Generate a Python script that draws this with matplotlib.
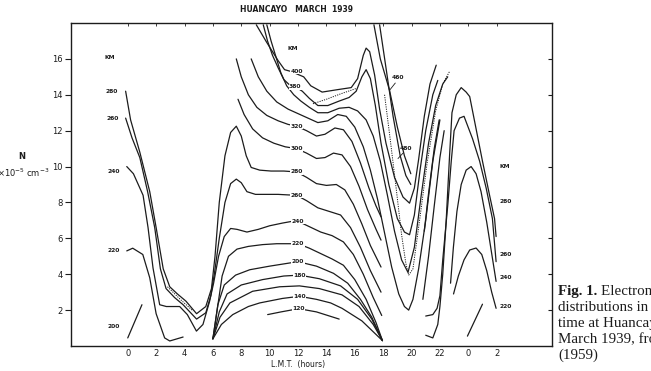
import matplotlib
matplotlib.use("Agg")
import matplotlib.pyplot as plt

# hours of local mean time (24 and 26 are 0 and 2 of the next day), N in 1e5 cm^-3
x_ticks = [0, 2, 4, 6, 8, 10, 12, 14, 16, 18, 20, 22, 24, 26]
x_labels = ["0", "2", "4", "6", "8", "10", "12", "14", "16", "18", "20", "22", "0", "2"]
y_ticks = [2, 4, 6, 8, 10, 12, 14, 16]

# curves of constant height as (hour, N)
c400 = [(9.06,17.9),(9.77,16.95),(10.6,15.9),(11.05,15.4),(11.5,15.3),(12.4,15.0),(12.9,14.5),(13.7,14.15),
        (14.9,14.3),(15.75,14.4),(16.2,14.9),(16.6,16.2),(16.8,16.6),(17.05,16.4),(17.4,15.1),(17.75,13.2),
        (18.2,11.3),(18.8,9.4),(19.4,8.3),(19.86,7.96),(20.2,8.8),(20.5,10.4),(20.9,12.8),(21.3,14.6),(21.74,15.65)]
c380 = [(9.55,17.9),(9.85,17.0),(10.2,16.2),(10.6,15.5),(11.0,14.85),(11.4,14.55),(11.8,14.45),(12.3,14.2),
        (12.8,13.8),(13.4,13.4),(14.1,13.4),(14.9,13.65),(15.6,13.85),(16.1,14.2),(16.5,15.0),(16.8,15.4),
        (17.1,14.9),(17.45,13.4),(17.85,11.3),(18.4,9.0),(19.0,7.1),(19.5,6.35),(19.86,6.2),(20.2,7.3),
        (20.6,9.8),(21.0,12.0),(21.5,14.0),(21.85,14.8)]
c360 = [(9.8,17.9),(10.1,17.0),(10.45,16.1),(10.8,15.2),(11.2,14.5),(11.7,14.0),(12.2,13.65),(12.8,13.3),
        (13.4,13.0),(14.1,13.0),(14.9,13.25),(15.6,13.3),(16.2,13.1),(16.8,12.6),(17.3,11.7),(17.8,10.3),
        (18.3,8.4),(18.8,6.4),(19.3,4.8),(19.75,4.1),(20.2,5.5),(20.7,8.5),(21.2,11.3),(21.7,13.4),
        (22.2,14.6),(22.55,15.0)]
c340 = [(8.7,16.0),(9.2,15.0),(9.8,14.2),(10.5,13.6),(11.3,13.2),(12.0,12.95),(12.7,12.7),(13.4,12.45),
        (14.1,12.55),(14.8,12.9),(15.4,12.8),(16.0,12.2),(16.6,11.1),(17.1,9.8),(17.6,8.2),(18.1,6.3),
        (18.6,4.4),(19.1,2.9),(19.5,2.2),(19.8,2.0),(20.1,2.6),(20.5,4.3),(21.0,7.0),(21.5,10.3),(22.0,12.6)]
c320 = [(7.65,16.0),(8.0,15.0),(8.5,14.0),(9.1,13.3),(9.8,12.85),(10.6,12.55),(11.3,12.35),(11.9,12.25),
        (12.6,12.0),(13.3,11.7),(13.9,11.8),(14.6,12.15),(15.2,12.05),(15.8,11.4),(16.4,10.2),(17.0,8.8),
        (17.5,7.8),(17.85,7.2)]
c300 = [(7.77,13.75),(8.2,12.9),(8.8,12.1),(9.5,11.6),(10.3,11.3),(11.1,11.1),(11.9,11.0),(12.6,10.75),
        (13.3,10.45),(13.9,10.5),(14.5,10.75),(15.1,10.65),(15.7,10.0),(16.3,8.9),(16.9,7.6),(17.5,6.5),(17.85,5.9)]
c280 = [(-0.15,14.2),(0.2,12.6),(0.85,10.8),(1.55,8.6),(2.0,6.6),(2.5,4.3),(2.96,3.3),(3.5,2.9),(4.1,2.5),
        (4.85,1.8),(5.5,2.2),(5.9,3.2),(6.15,5.0),(6.45,8.0),(6.85,10.6),(7.25,11.9),(7.65,12.25),(8.0,11.7),
        (8.35,10.6),(8.7,9.95),(9.3,9.8),(10.1,9.75),(11.0,9.75),(11.9,9.7),(12.6,9.4),(13.3,9.05),(14.0,8.95),
        (14.7,9.0),(15.3,8.7),(15.9,7.9),(16.5,6.8),(17.1,5.6),(17.6,4.8),(17.85,4.4)]
c260 = [(-0.15,12.7),(0.3,11.6),(0.85,10.5),(1.4,8.6),(1.9,6.6),(2.3,4.3),(2.7,3.2),(3.3,2.7),(3.9,2.3),
        (4.85,1.5),(5.5,1.85),(5.85,2.8),(6.1,4.0),(6.45,6.0),(6.85,8.0),(7.25,9.05),(7.65,9.3),(8.0,9.1),
        (8.4,8.6),(9.0,8.45),(9.8,8.45),(10.6,8.45),(11.3,8.42),(11.9,8.4),(12.6,8.1),(13.4,7.7),(14.2,7.5),
        (15.0,7.3),(15.7,6.6),(16.4,5.5),(17.1,4.2),(17.85,3.0)]
c240 = [(-0.07,10.0),(0.4,9.6),(1.08,8.4),(1.43,6.6),(1.78,4.35),(2.25,2.3),(2.72,2.2),(3.66,2.2),(4.2,1.75),
        (4.84,0.83),(5.3,1.2),(5.77,2.5),(6.05,3.5),(6.4,5.0),(6.8,6.1),(7.25,6.55),(7.7,6.5),(8.4,6.35),
        (9.2,6.5),(10.0,6.7),(10.9,6.85),(11.6,6.95),(12.0,6.95),(12.8,6.65),(13.6,6.35),(14.4,6.15),(15.2,5.8),
        (15.9,5.1),(16.6,4.0),(17.3,2.7),(17.9,1.7)]
c220_night = [(-0.07,5.3),(0.35,5.45),(1.06,5.1),(1.55,3.8),(2.0,1.8),(2.6,0.45),(2.96,0.28),(3.9,0.5)]
c220 = [(6.0,0.4),(6.3,2.0),(6.65,3.9),(7.1,5.0),(7.7,5.4),(8.5,5.55),(9.5,5.65),(10.5,5.7),(11.4,5.7),
        (12.0,5.7),(12.8,5.45),(13.6,5.15),(14.4,4.85),(15.2,4.5),(16.0,3.7),(16.8,2.6),(17.5,1.3),(17.95,0.3)]
c200_night = [(0.0,0.45),(1.0,2.3)]
c200 = [(6.0,0.4),(6.35,2.3),(6.8,3.4),(7.6,3.95),(8.6,4.25),(10.0,4.45),(12.0,4.7),(13.3,4.45),(14.5,4.05),
        (15.5,3.5),(16.4,2.6),(17.2,1.6),(17.95,0.3)]
c180 = [(6.0,0.4),(6.45,1.9),(7.0,2.9),(8.0,3.4),(9.5,3.7),(11.0,3.9),(12.1,3.95),(13.5,3.75),(15.0,3.35),
        (16.2,2.6),(17.2,1.5),(17.95,0.3)]
c160 = [(6.0,0.4),(6.5,1.6),(7.2,2.4),(8.8,3.05),(10.7,3.3),(12.1,3.35),(13.5,3.2),(15.1,2.85),(16.3,2.2),
        (17.3,1.2),(17.95,0.3)]
c140 = [(6.0,0.4),(6.6,1.2),(7.4,1.75),(8.5,2.2),(9.3,2.4),(10.9,2.65),(12.1,2.77),(13.3,2.6),(14.3,2.4),
        (15.1,2.1),(16.5,1.4),(17.95,0.3)]
c120 = [(9.86,1.75),(10.8,1.9),(12.05,2.08),(13.3,1.9),(14.9,1.5)]
c460 = [(17.35,17.9),(17.8,16.0),(18.45,14.25),(19.0,12.2),(19.5,10.6),(19.95,9.6)]
c480 = [(17.75,17.9),(18.2,15.5),(18.7,12.8),(19.2,10.6),(19.6,9.5),(19.95,9.0)]
rise_a = [(20.9,6.4),(21.2,8.5),(21.6,11.0),(21.95,12.6)]
rise_b = [(20.8,2.6),(21.2,5.0),(21.6,7.8),(22.0,10.5),(22.3,12.0)]
# next-night curves
n280 = [(21.0,0.6),(21.5,0.45),(21.85,1.2),(22.0,2.2),(22.2,4.0),(22.44,6.95),(22.68,10.6),(22.85,13.0),
        (23.15,14.0),(23.5,14.4),(23.85,14.15),(24.1,13.9),(24.55,12.1),(25.0,10.3),(25.5,8.4),(25.85,7.1),(25.96,6.1)]
n260 = [(21.0,1.67),(21.5,1.75),(21.8,2.1),(22.0,2.8),(22.2,4.8),(22.56,7.9),(22.8,10.3),(23.0,12.0),
        (23.38,12.7),(23.7,12.8),(24.3,11.55),(24.8,10.3),(25.26,8.8),(25.7,7.1),(25.96,4.7)]
n240 = [(22.75,3.5),(22.95,5.5),(23.2,7.5),(23.5,9.0),(23.85,9.8),(24.2,10.0),(24.55,9.6),(24.9,8.6),
        (25.3,6.9),(25.7,4.9),(25.96,3.6)]
n220 = [(22.96,2.9),(23.3,3.9),(23.7,4.8),(24.1,5.35),(24.55,5.46),(24.95,5.1),(25.3,4.2),(25.65,3.0),(25.96,2.1)]
n200 = [(23.94,0.55),(25.0,2.33)]
# dotted curves
dot_night = [(2.8,3.3),(3.7,2.6),(4.6,1.95)]
dot_day = [(13.05,13.5),(14.0,13.75),(15.0,14.05),(16.1,14.35)]
dot_eve = [(18.1,14.0),(18.5,11.5),(18.9,8.9),(19.3,6.2),(19.6,4.6),(19.8,3.95),(20.1,4.3),(20.6,7.2),
           (21.1,10.2),(21.7,13.1),(22.2,14.6),(22.68,15.3)]

# height labels (text, hour, N)
labels_mid = [("400",11.9,15.3),("380",11.8,14.45),("320",11.9,12.25),("300",11.9,11.0),("280",11.9,9.7),
              ("260",11.9,8.4),("240",12.0,6.95),("220",12.0,5.7),("200",12.0,4.7),("180",12.1,3.95),
              ("140",12.1,2.77),("120",12.05,2.08),("KM",11.65,16.6)]
labels_left = [("KM",-1.27,16.05),("280",-1.15,14.2),("260",-1.05,12.7),("240",-1.0,9.7),("220",-1.0,5.33),
               ("200",-1.0,1.1)]
labels_right = [("KM",26.55,10.0),("280",26.66,8.05),("260",26.66,5.1),("240",26.66,3.8),("220",26.66,2.2)]
caption_head = "Fig. 1."
caption_first = "Electron density"
caption = ["distributions in height and", "time at Huancayo during", "March 1939, from Wright", "(1959)"]

solid = [c400, c380, c360, c340, c320, c300, c280, c260, c240, c220_night, c220, c200_night, c200,
         c180, c160, c140, c120, c460, c480, rise_a, rise_b, n280, n260, n240, n220, n200]
dotted = [dot_night, dot_day, dot_eve]

ink = "#1c1c1c"
fig = plt.figure(figsize=(6.51, 3.71), dpi=100)
ax = fig.add_axes([71/651, 25/371, 481/651, 323/371])

for c in solid:
    ax.plot([p[0] for p in c], [p[1] for p in c], color=ink, lw=0.9, solid_capstyle="round")
for c in dotted:
    ax.plot([p[0] for p in c], [p[1] for p in c], color=ink, lw=0.7, ls=(0, (1.2, 1.2)))

lab_kw = dict(fontsize=4.3, fontweight="bold", color=ink, ha="center", va="center")
for t, hx, ny in labels_mid:
    ax.text(hx, ny, t, bbox=dict(fc="white", ec="none", pad=0.3), **lab_kw)
for t, hx, ny in labels_left + labels_right:
    ax.text(hx, ny, t, **lab_kw)
ax.text(19.04, 14.94, "460", **lab_kw)
ax.plot([18.85, 18.45], [14.65, 14.25], color=ink, lw=0.6)
ax.text(19.62, 10.98, "480", **lab_kw)
ax.plot([19.4, 19.05], [10.75, 10.45], color=ink, lw=0.6)

ax.set_xlim(-4.0, 29.9)
ax.set_ylim(0, 18.0)
ax.set_xticks(x_ticks)
ax.set_xticklabels(x_labels)
ax.set_yticks(y_ticks)
ax.tick_params(axis="y", direction="out", length=4, width=0.8, labelsize=6, pad=2, colors=ink)
ax.tick_params(axis="x", length=0, labelsize=6, pad=2, colors=ink)
for s in ax.spines.values():
    s.set_linewidth(1.0)
    s.set_color(ink)

secy = ax.secondary_yaxis("right")
secy.set_yticks(y_ticks)
secy.tick_params(direction="in", length=3, width=0.8, labelright=False, colors=ink)
secy.spines["right"].set_visible(False)
secx = ax.secondary_xaxis("top")
secx.set_xticks(x_ticks)
secx.tick_params(direction="in", length=2.5, labeltop=False, width=0.6, colors=ink)
secx.spines["top"].set_visible(False)

fig.text(297/651, 1 - 9/371, "HUANCAYO   MARCH  1939", ha="center", va="center", fontsize=5.5,
         fontweight="bold", color=ink)
fig.text(298/651, 1 - 364/371, "L.M.T.  (hours)", ha="center", va="center", fontsize=5.5, color=ink)
fig.text(22/651, 1 - 157/371, "N", ha="center", va="center", fontsize=6, fontweight="bold", color=ink)
fig.text(-3/651, 1 - 173/371, r"$\times$10$^{-5}$ cm$^{-3}$", ha="left", va="center", fontsize=6, color=ink)

# caption, partly cut by the right edge as in the source page
cap_kw = dict(ha="left", va="center", fontsize=10.8, family="Liberation Serif", color=ink)
cap_y = [291, 307, 323, 339, 355]
head = fig.text(558/651, 1 - cap_y[0]/371, caption_head, fontweight="bold", **cap_kw)
fig.canvas.draw()
x_after = head.get_window_extent().x1 + 4
fig.text(x_after/651, 1 - cap_y[0]/371, caption_first, **cap_kw)
for yy, t in zip(cap_y[1:], caption):
    fig.text(558/651, 1 - yy/371, t, **cap_kw)

fig.savefig("out.png", dpi=100)
